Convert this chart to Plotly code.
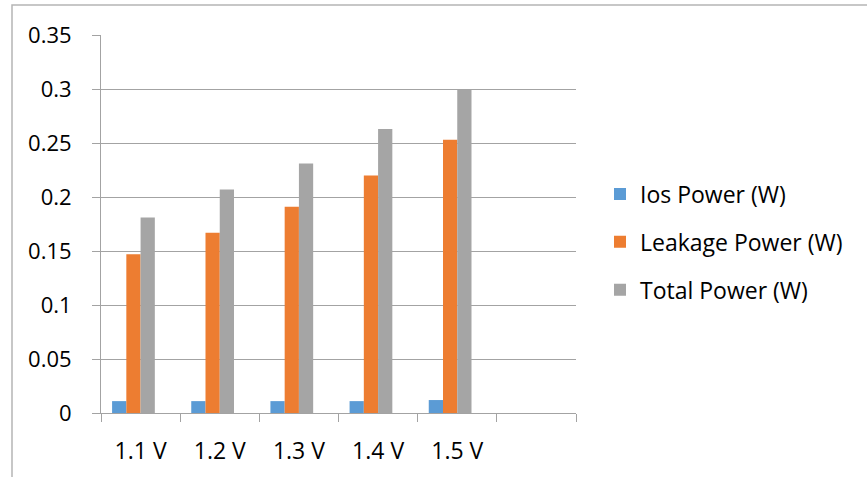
import plotly.graph_objects as go

# Supply voltages (last slot left empty on the axis)
voltages = ["1.1 V", "1.2 V", "1.3 V", "1.4 V", "1.5 V", " "]

# Power figures in watts
ios_power = [0.011, 0.011, 0.011, 0.011, 0.012, None]
leakage_power = [0.147, 0.167, 0.191, 0.220, 0.253, None]
total_power = [0.181, 0.207, 0.231, 0.263, 0.299, None]

series_names = ["Ios Power (W)", "Leakage Power (W)", "Total Power (W)"]
series_values = [ios_power, leakage_power, total_power]
series_colors = ["#5B9BD5", "#ED7D31", "#A5A5A5"]

y_ticks = [0, 0.05, 0.1, 0.15, 0.2, 0.25, 0.3, 0.35]
y_tick_text = ["0", "0.05", "0.1", "0.15", "0.2", "0.25", "0.3", "0.35"]

FONT = "'Open Sans', Lato, sans-serif"
GRID = "#a3a3a3"

W, H = 867, 477
L, R, T, B = 101, 291, 35, 64

bar_w = 0.18
fig = go.Figure()
for i, (name, vals, col) in enumerate(zip(series_names, series_values, series_colors)):
    fig.add_trace(go.Bar(
        x=voltages, y=vals, name=name,
        marker=dict(color=col, line=dict(width=0)),
        width=bar_w, offset=-0.36 + i * bar_w,
        legendgroup=name,
    ))

plot_w = W - L - R
plot_h = H - T - B

def px_x(px):
    return (px - L) / plot_w

def px_y(py):
    return (H - B - py) / plot_h

# outer chart border (top and left edges visible)
fig.add_shape(type="rect", xref="paper", yref="paper",
              x0=px_x(12), x1=px_x(900), y0=px_y(5), y1=px_y(520),
              line=dict(color="#b5b5b5", width=1.5), layer="below")

fig.update_layout(
    width=W, height=H,
    margin=dict(l=L, r=R, t=T, b=B),
    paper_bgcolor="white", plot_bgcolor="white",
    barmode="group",
    font=dict(family=FONT, size=22, color="#000000"),
    showlegend=True,
    legend=dict(
        x=px_x(600), xanchor="left",
        y=px_y(242), yanchor="middle",
        font=dict(family=FONT, size=23, color="#000000"),
        tracegroupgap=15,
        bgcolor="rgba(0,0,0,0)",
    ),
    xaxis=dict(
        type="category",
        tickson="boundaries",
        ticks="outside", ticklen=8, tickcolor=GRID, tickwidth=1,
        showline=True, linecolor=GRID, linewidth=1,
        showgrid=False,
        range=[-0.5, 5.5],
        ticklabelstandoff=17,
        tickfont=dict(family=FONT, size=23, color="#000000"),
    ),
    yaxis=dict(
        range=[0, 0.35],
        tickvals=y_ticks, ticktext=y_tick_text,
        ticks="outside", ticklen=8, tickcolor=GRID, tickwidth=1,
        showline=True, linecolor=GRID, linewidth=1,
        showgrid=True, gridcolor=GRID, gridwidth=1,
        zeroline=False,
        ticklabelstandoff=16,
        tickfont=dict(family=FONT, size=22, color="#000000"),
    ),
)

fig.write_html("out.html")
